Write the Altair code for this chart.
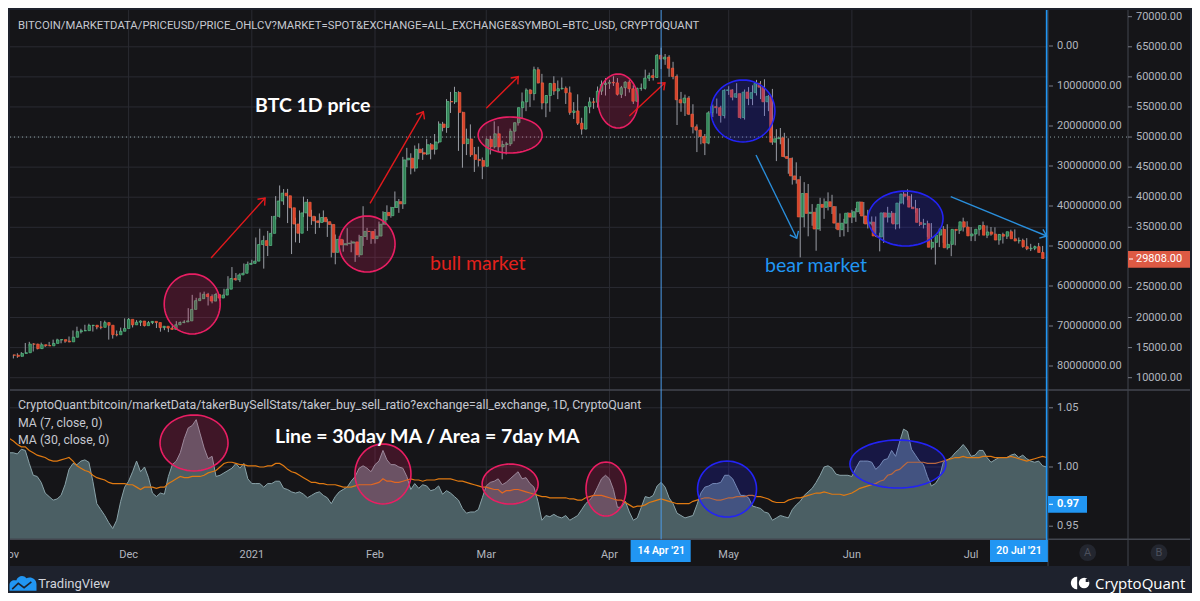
import math
import numpy as np
import pandas as pd
import altair as alt

# ---------------------------------------------------------------- data
START_DATE = "2020-11-01"
FIRST_OPEN = 13780

CLOSE_NOV = [13740, 13550, 14030, 14150, 15590, 15580, 14830, 15480, 15330, 15300,
             15700, 16280, 16330, 16070, 15960, 16720, 17650, 17800, 17820, 18680,
             18720, 18420, 18370, 19160, 18720, 17150, 17140, 17720, 18180, 19700]
HIGH_NOV = [13900, 13820, 14060, 14250, 15770, 15960, 15750, 15650, 15830, 15480,
            15950, 16330, 16480, 16330, 16140, 16850, 17850, 18480, 18130, 18800,
            18970, 18730, 18760, 19420, 19480, 19150, 17450, 17850, 18330, 19860]
LOW_NOV = [13620, 13200, 13300, 13540, 14100, 15200, 14350, 14700, 14800, 15100,
           15280, 15450, 15980, 15720, 15800, 15870, 16540, 17220, 17350, 17760,
           18300, 17670, 18050, 18050, 18500, 16330, 16500, 16880, 17550, 18180]

CLOSE_DEC = [18790, 19210, 19420, 18650, 19150, 19360, 19170, 18320, 18550, 18250,
             18030, 18800, 19170, 19270, 19440, 21350, 22800, 23130, 23860, 23480,
             22740, 23820, 23240, 23730, 24710, 26490, 26280, 27080, 27360, 28840, 29000]
HIGH_DEC = [19920, 19300, 19560, 19510, 19180, 19400, 19400, 19280, 18630, 18560,
            18280, 18940, 19400, 19340, 19570, 21560, 23770, 23280, 24170, 24300,
            24100, 23840, 24100, 23790, 24780, 26870, 28390, 27400, 27370, 28990, 29300]
LOW_DEC = [18320, 18350, 18900, 18580, 18530, 18950, 18900, 18250, 17650, 17900,
           17570, 18020, 18750, 19000, 19050, 19290, 21250, 22350, 22800, 23080,
           22000, 22360, 22700, 22730, 23440, 24520, 25850, 26100, 25900, 27320, 27870]

CLOSE_JAN = [29370, 32130, 32780, 31970, 33990, 36820, 39370, 40670, 40240, 38240,
             35540, 34010, 37390, 39160, 36830, 36070, 35800, 36630, 35930, 35470,
             30830, 32990, 32080, 32270, 32370, 32570, 30430, 33470, 34320, 34300, 33110]
HIGH_JAN = [29600, 33300, 34780, 33600, 34400, 36880, 40180, 41950, 41350, 41380,
            38350, 36600, 37800, 40100, 39700, 37900, 36800, 37300, 37800, 36400,
            35600, 33800, 33500, 32950, 34850, 32800, 32600, 33750, 38500, 34900, 34350]
LOW_JAN = [28800, 29000, 32000, 28130, 30220, 33420, 36300, 36600, 38720, 35700,
           30550, 32500, 32400, 36700, 34400, 35400, 33900, 34900, 35850, 33400,
           30000, 28850, 31400, 30950, 31950, 30850, 29250, 30050, 31900, 32900, 32250]

CLOSE_FEB = [33540, 35510, 37470, 36930, 38290, 39260, 38900, 46200, 46480, 44840,
             47970, 47400, 47170, 48720, 47970, 49180, 52160, 51600, 55900, 55850,
             57400, 54100, 48900, 49680, 47060, 46280, 46110, 45140]
HIGH_FEB = [34700, 35950, 37660, 38650, 38400, 40950, 39700, 46700, 48200, 47300,
            48600, 48950, 48150, 49700, 49000, 50500, 52600, 52520, 56300, 57500,
            58350, 57600, 54200, 51400, 52100, 48350, 48400, 46600]
LOW_FEB = [32300, 33450, 35400, 36200, 36600, 38200, 37400, 38050, 45000, 43800,
           44250, 46300, 46200, 47000, 46300, 47100, 48950, 50950, 50700, 54000,
           55500, 47700, 44900, 47000, 46700, 44200, 45100, 43000]

CLOSE_MAR = [49620, 48380, 50540, 48370, 48760, 48880, 50970, 52380, 54880, 55850,
             57800, 57220, 61190, 59000, 55660, 56900, 58910, 57650, 58030, 58100,
             57350, 54080, 54340, 52300, 51320, 55030, 55840, 55780, 57630, 58730, 58920]
HIGH_MAR = [49800, 50200, 52600, 51800, 49400, 49200, 51400, 52400, 54900, 57400,
            58100, 58000, 61700, 61600, 60500, 56950, 58950, 60100, 59400, 59900,
            58400, 58400, 55800, 57100, 53200, 55100, 56600, 56500, 58400, 59400, 59800]
LOW_MAR = [45100, 47100, 48100, 47500, 46300, 47100, 48500, 49300, 51900, 53100,
           54300, 55000, 56100, 58900, 54600, 53300, 54200, 57000, 56300, 57900,
           55500, 53700, 53000, 52000, 50400, 51300, 53950, 54700, 54900, 57000, 56900]

CLOSE_APR = [59100, 59000, 57100, 58200, 59130, 58020, 55950, 58090, 58090, 59790,
             60200, 59900, 63580, 62960, 63270, 61440, 60070, 56200, 55680, 56470,
             53800, 51700, 51150, 50100, 49000, 54020, 55050, 54880, 53580, 57750]
HIGH_APR = [59500, 60100, 59800, 58500, 59250, 59450, 58600, 58200, 58900, 61200,
            60700, 61300, 63800, 64850, 63800, 63600, 62500, 60400, 57500, 57050,
            56800, 55450, 52100, 51200, 50500, 54300, 55400, 56400, 55200, 57950]
LOW_APR = [58000, 58500, 56900, 56500, 56800, 57400, 55500, 55800, 57700, 57900,
           59300, 59400, 59800, 61300, 62000, 60000, 59600, 52000, 54200, 53500,
           53650, 50600, 47500, 48800, 47000, 48800, 53300, 53900, 52400, 53100]

CLOSE_MAY = [57830, 56630, 57210, 53240, 57470, 56430, 57380, 58930, 58280, 55860,
             56750, 49150, 49720, 49880, 46760, 46450, 43540, 42910, 36720, 40620,
             37310, 37500, 34710, 38800, 38320, 39240, 38440, 35690, 34600, 35680, 37340]
HIGH_MAY = [58450, 57950, 58950, 57250, 57900, 58300, 58600, 59500, 59300, 59600,
            57000, 58000, 51300, 51500, 50700, 49800, 46600, 45800, 43500, 42500,
            42200, 38850, 38250, 39900, 39800, 40800, 40400, 38500, 37300, 36400, 37500]
LOW_MAY = [57000, 56100, 56500, 53050, 52900, 55300, 55300, 56900, 56300, 53500,
           54300, 48700, 46000, 48800, 46600, 43900, 42100, 42250, 30000, 35000,
           33500, 35250, 31100, 34400, 36400, 37800, 37200, 34700, 33400, 33500, 34200]

CLOSE_JUN = [36690, 37580, 39190, 36880, 35550, 35860, 33560, 33400, 37390, 36690,
             37340, 35550, 39020, 40530, 40160, 38350, 38090, 35820, 35480, 35600,
             31680, 32500, 33700, 34660, 31600, 32160, 34650, 34490, 35910, 35040]
HIGH_JUN = [37900, 38200, 39300, 39200, 37900, 36800, 36800, 34100, 37500, 38400,
            37700, 37400, 39300, 41000, 41300, 40500, 39550, 38200, 36400, 36100,
            35700, 33300, 34800, 35200, 35500, 32700, 34700, 35300, 36600, 36000]
LOW_JUN = [35700, 35900, 37200, 35600, 34800, 35300, 33400, 31000, 32400, 35800,
           35700, 34650, 34800, 38800, 39500, 38100, 37400, 35200, 34800, 33400,
           31300, 28800, 31700, 32400, 31300, 30200, 32000, 33900, 34300, 34000]

CLOSE_JUL = [33570, 33890, 34670, 35290, 33690, 34220, 33860, 32880, 33800, 33520,
             34260, 33090, 32730, 32820, 31780, 31420, 31520, 31780, 30820, 29808]
HIGH_JUL = [35050, 33950, 35000, 35950, 35300, 35050, 35000, 33900, 34100, 34250,
            34600, 34650, 33300, 33100, 33200, 32250, 31950, 32400, 31900, 31050]
LOW_JUL = [32700, 32700, 33600, 34400, 33200, 33600, 33800, 32100, 32300, 33050,
           33350, 32700, 32300, 31600, 31200, 31050, 31200, 31250, 30500, 29400]

# taker buy/sell ratio, 7-day MA (area) and 30-day MA (line), 1 Nov 2020 .. 20 Jul 2021
MA7_A = [1.012, 1.012, 1.011, 1.015, 1.014, 1.003, 0.993, 0.992, 0.987, 0.978,
         0.975, 0.972, 0.973, 0.976, 0.985, 0.998, 1.003, 1.002, 1.005, 1.006,
         1.004, 0.988, 0.969, 0.964, 0.959, 0.953, 0.948, 0.955, 0.971, 0.983,
         0.988, 0.996, 1.005, 0.996, 1.000, 0.991, 0.978, 0.975, 0.978, 0.977,
         0.992, 1.002, 1.005, 1.012, 1.024, 1.033, 1.035, 1.040, 1.028, 1.016,
         1.007, 1.009, 0.992, 0.993, 0.995, 0.997, 0.999, 1.003, 0.999, 1.003,
         0.990, 0.986, 0.986, 0.986, 0.983, 0.986, 0.986, 0.988, 0.988, 0.982,
         0.981, 0.979, 0.978, 0.979, 0.977, 0.974, 0.976, 0.978, 0.979, 0.976,
         0.974, 0.969, 0.975, 0.979, 0.981, 0.983, 0.988, 0.992, 0.999]
MA7_B = [1.001, 0.999, 0.996, 1.002, 1.005, 1.014, 1.006, 1.002, 1.002, 1.000,
         0.999, 0.992, 0.981, 0.986, 0.982, 0.985, 0.984, 0.980, 0.981, 0.984,
         0.977, 0.980, 0.978, 0.975, 0.972, 0.965, 0.961, 0.962, 0.962, 0.964,
         0.974, 0.984, 0.987, 0.988, 0.990, 0.985, 0.987, 0.990, 0.993, 0.996,
         0.990, 0.991, 0.986, 0.983, 0.971, 0.955, 0.959, 0.958, 0.960, 0.958,
         0.957, 0.959, 0.955, 0.957, 0.959, 0.964, 0.969, 0.972, 0.976, 0.983,
         0.990, 0.993, 0.990, 0.981, 0.966, 0.966, 0.971, 0.962, 0.955, 0.957,
         0.966, 0.975, 0.974, 0.976, 0.984, 0.987, 0.983, 0.974, 0.969, 0.961,
         0.959, 0.957, 0.958, 0.959, 0.968, 0.978, 0.983, 0.984]
MA7_C = [0.986, 0.986, 0.987, 0.993, 0.993, 0.990, 0.983, 0.976, 0.976, 0.974,
         0.967, 0.966, 0.965, 0.962, 0.961, 0.955, 0.957, 0.959, 0.958, 0.957,
         0.964, 0.968, 0.971, 0.976, 0.979, 0.982, 0.987, 0.993, 1.000, 1.001,
         0.999, 0.994, 0.993, 0.993, 0.993, 0.992, 0.999, 1.005, 1.005, 1.005,
         1.004, 0.998, 1.001, 1.006, 1.007, 1.014, 1.009, 1.021, 1.032, 1.030,
         1.015, 1.010, 1.005, 1.002, 0.992, 0.984, 0.986, 0.991, 1.004, 1.006,
         1.008, 1.012, 1.015, 1.019, 1.015, 1.009, 1.010, 1.014, 1.014, 1.008,
         1.004, 1.006, 1.008, 1.008, 1.008, 1.010, 1.011, 1.008, 1.010, 1.007,
         1.005, 1.004, 1.005, 1.001, 1.000]
MA30_A = [1.024, 1.022, 1.019, 1.017, 1.017, 1.014, 1.012, 1.010, 1.009, 1.008,
          1.006, 1.005, 1.005, 1.006, 1.007, 1.008, 1.005, 1.001, 0.999, 0.997,
          0.996, 0.993, 0.991, 0.990, 0.989, 0.987, 0.986, 0.986, 0.986, 0.986,
          0.985, 0.985, 0.983, 0.981, 0.983, 0.983, 0.983, 0.982, 0.983, 0.983,
          0.986, 0.988, 0.990, 0.992, 0.991, 0.991, 0.992, 0.992, 0.992, 0.993,
          0.995, 0.996, 0.997, 1.000, 1.003, 1.004, 1.004, 1.003, 1.002, 1.002,
          1.001, 1.001, 1.001, 1.000, 1.000, 1.001, 1.001, 1.003, 1.003, 1.001,
          0.998, 0.996, 0.995, 0.993, 0.991, 0.989, 0.987, 0.987, 0.986, 0.986,
          0.985, 0.985, 0.985, 0.984, 0.983, 0.983, 0.983, 0.984, 0.985]
MA30_B = [0.985, 0.985, 0.985, 0.986, 0.987, 0.990, 0.988, 0.988, 0.987, 0.987,
          0.988, 0.989, 0.990, 0.989, 0.989, 0.988, 0.989, 0.989, 0.989, 0.990,
          0.990, 0.990, 0.990, 0.989, 0.988, 0.988, 0.987, 0.986, 0.985, 0.984,
          0.983, 0.983, 0.982, 0.981, 0.981, 0.978, 0.980, 0.980, 0.981, 0.981,
          0.980, 0.979, 0.978, 0.977, 0.976, 0.975, 0.975, 0.974, 0.974, 0.974,
          0.974, 0.974, 0.973, 0.973, 0.972, 0.972, 0.974, 0.975, 0.976, 0.976,
          0.976, 0.975, 0.974, 0.973, 0.972, 0.972, 0.970, 0.968, 0.966, 0.967,
          0.967, 0.968, 0.970, 0.971, 0.972, 0.973, 0.972, 0.971, 0.970, 0.969,
          0.969, 0.969, 0.969, 0.971, 0.972, 0.973, 0.974, 0.974]
MA30_C = [0.973, 0.972, 0.972, 0.973, 0.974, 0.974, 0.975, 0.975, 0.975, 0.976,
          0.976, 0.975, 0.975, 0.974, 0.973, 0.971, 0.970, 0.970, 0.970, 0.972,
          0.973, 0.974, 0.974, 0.975, 0.976, 0.977, 0.978, 0.978, 0.979, 0.978,
          0.977, 0.977, 0.977, 0.976, 0.977, 0.978, 0.980, 0.982, 0.983, 0.984,
          0.985, 0.986, 0.988, 0.989, 0.993, 0.994, 0.997, 0.998, 1.001, 1.004,
          1.004, 1.004, 1.004, 1.004, 1.003, 1.003, 1.003, 1.004, 1.005, 1.006,
          1.007, 1.008, 1.008, 1.009, 1.008, 1.008, 1.008, 1.008, 1.009, 1.009,
          1.009, 1.008, 1.008, 1.008, 1.008, 1.009, 1.008, 1.007, 1.006, 1.005,
          1.006, 1.007, 1.008, 1.009, 1.008]

MONTH_TICKS = ["2020-11-01", "2020-12-01", "2021-01-01", "2021-02-01", "2021-03-01",
               "2021-04-01", "2021-05-01", "2021-06-01", "2021-07-01"]
MONTH_LABELS = ["Nov", "Dec", "2021", "Feb", "Mar", "Apr", "May", "Jun", "Jul"]
PRICE_TICKS = [10000, 15000, 20000, 25000, 30000, 35000, 40000, 45000, 50000, 55000, 60000, 65000, 70000]
PRICE_LABELS = ["10000.00", "15000.00", "20000.00", "25000.00", "30000.00", "35000.00", "40000.00",
                "45000.00", "50000.00", "55000.00", "60000.00", "65000.00", "70000.00"]
VOL_TICKS = [0, 10000000, 20000000, 30000000, 40000000, 50000000, 60000000, 70000000, 80000000]
VOL_LABELS = ["0.00", "10000000.00", "20000000.00", "30000000.00", "40000000.00",
              "50000000.00", "60000000.00", "70000000.00", "80000000.00"]
RATIO_TICKS = [0.95, 1.00, 1.05]
RATIO_LABELS = ["0.95", "1.00", "1.05"]
RATIO_PANE_BOTTOM = 0.93894
LAST_PRICE, LAST_PRICE_LABEL = 29808, "29808.00"
LAST_RATIO, LAST_RATIO_LABEL = 0.9685, "0.97"
HLINE_PRICE = 50000
CROSS_DATE, CROSS_LABEL = "2021-04-14", "14 Apr '21"
END_DATE, END_LABEL = "2021-07-20", "20 Jul '21"

# annotations (data coordinates)
RED_ARROW_FROM = ["2020-12-21T18:00:00Z", "2021-01-30T18:00:00Z", "2021-03-01T00:00:00Z", "2021-04-06T00:00:00Z"]
RED_ARROW_FROM_P = [29900, 38990, 54780, 53500]
RED_ARROW_TO = ["2021-01-04T08:00:00Z", "2021-02-13T04:00:00Z", "2021-03-09T01:00:00Z", "2021-04-14T23:00:00Z"]
RED_ARROW_TO_P = [39870, 54210, 60030, 59030]
BLUE_ARROW_FROM = ["2021-05-07T21:00:00Z", "2021-06-25T21:00:00Z"]
BLUE_ARROW_FROM_P = [47010, 40080]
BLUE_ARROW_TO = ["2021-05-18T03:00:00Z", "2021-07-20T00:30:00Z"]
BLUE_ARROW_TO_P = [33170, 33550]

PINK_UP_DATE = ["2020-12-17T00:00:00Z", "2021-01-30T00:00:00Z", "2021-03-07T00:00:00Z", "2021-04-03T04:00:00Z"]
PINK_UP_PRICE = [22250, 32220, 50340, 55990]
BLUE_UP_DATE = ["2021-05-04T14:00:00Z", "2021-06-14T12:00:00Z"]
BLUE_UP_PRICE = [54330, 36460]
PINK_LO_DATE = ["2020-12-17T11:00:00Z", "2021-02-03T00:00:00Z", "2021-03-07T00:00:00Z", "2021-03-31T03:00:00Z"]
PINK_LO_RATIO = [1.0203, 0.9941, 0.9856, 0.9814]
BLUE_LO_DATE = ["2021-04-30T14:00:00Z", "2021-06-12T14:00:00Z"]
BLUE_LO_RATIO = [0.9814, 1.0025]

# ---------------------------------------------------------------- styles
PINK_UP_R = [(28, 30), (28, 28), (32, 18), (20, 27)]
BLUE_UP_R = [(32, 31), (37.5, 27.5)]
PINK_LO_R = [(34, 28), (28, 30), (28, 20), (20, 27)]
BLUE_LO_R = [(29.5, 28), (48, 24)]
RED_HEAD_ANGLE = [312.0, 300.2, 311.8, 317.0]
BLUE_HEAD_ANGLE = [64.0, 22.3]

W, H = 1184, 585
BORDER = "#1e222d"
PANEL = "#151518"
GRID = "#2a2b32"
SEP = "#43464f"
AXIS_TXT = "#b2b5be"
LEGEND_TXT = "#c5c8d0"
UP_FILL, UP_LINE = "#2f7d52", "#5cc08a"
DN_FILL, DN_LINE = "#d9412a", "#f0623f"
WICK = "#9a9da5"
AREA_FILL, AREA_LINE = "#4b5f64", "#8aa3a9"
ORANGE = "#e07a12"
PINK = "#e91e63"
NAVY = "#2323f5"
RED = "#e3191c"
BLUE = "#2196f3"
FONT = "Roboto"
BIG = "Lato"

# ---------------------------------------------------------------- scales
PX_PER_DAY = 3.974
X_FIRST = 1.4
t0 = pd.Timestamp(START_DATE, tz="UTC")
dom0 = t0 - pd.Timedelta(days=X_FIRST / PX_PER_DAY)
dom1 = t0 + pd.Timedelta(days=(W - X_FIRST) / PX_PER_DAY)
XS = alt.Scale(type="utc", domain=[int(dom0.value // 10**6), int(dom1.value // 10**6)], nice=False)
PS = alt.Scale(domain=[-25784, 71446], nice=False, zero=False)
RS = alt.Scale(domain=[0.89358, 1.38767], nice=False, zero=False)
VS = alt.Scale(domain=[-9.5e6, 136.75e6], nice=False, zero=False, reverse=True)


def xt(f):
    return alt.X(f"{f}:T", scale=XS, axis=None)


def yp(f):
    return alt.Y(f"{f}:Q", scale=PS, axis=None)


def yr(f):
    return alt.Y(f"{f}:Q", scale=RS, axis=None)


ONE = pd.DataFrame({"k": [0]})


def rect(x, x2, y, y2, color, opacity=1):
    return alt.Chart(ONE).mark_rect(color=color, opacity=opacity).encode(
        x=alt.value(x), x2=alt.value(x2), y=alt.value(y), y2=alt.value(y2))


def hline(x, x2, y, color, width=1):
    return alt.Chart(ONE).mark_rule(color=color, strokeWidth=width).encode(
        x=alt.value(x), x2=alt.value(x2), y=alt.value(y))


def vline(x, y, y2, color, width=1):
    return alt.Chart(ONE).mark_rule(color=color, strokeWidth=width).encode(
        x=alt.value(x), y=alt.value(y), y2=alt.value(y2))


def text(s, x, y, size=11, color=AXIS_TXT, weight="normal", font=FONT, align="left", baseline="alphabetic"):
    return alt.Chart(ONE).mark_text(text=s, font=font, fontSize=size, fontWeight=weight, color=color,
                                    align=align, baseline=baseline).encode(x=alt.value(x), y=alt.value(y))


def ellipse_path(k, n=60):
    pts = [(math.cos(2 * math.pi * i / n), k * math.sin(2 * math.pi * i / n)) for i in range(n)]
    return "M" + "L".join(f"{a:.4f},{b:.4f}" for a, b in pts) + "Z"


def ellipses(dates, values, radii, yenc, stroke, fill, fop):
    df = pd.DataFrame({
        "date": dates, "v": values,
        "shape": [ellipse_path(ry / rx) for rx, ry in radii],
        "size": [(2 * rx) ** 2 for rx, ry in radii],
    })
    return alt.Chart(df).mark_point(filled=True, opacity=1, fill=fill, fillOpacity=fop, stroke=stroke,
                                    strokeWidth=1.6, strokeOpacity=1).encode(
        x=xt("date"), y=yenc("v"),
        shape=alt.Shape("shape:N", scale=None), size=alt.Size("size:Q", scale=None))


CHEVRON = "M-1,-0.8L0,0L-1,0.8"


def arrows(f, fp, t, tp, angles, color):
    df = pd.DataFrame({"d0": f, "p0": fp, "d1": t, "p1": tp, "ang": angles})
    shaft = alt.Chart(df).mark_rule(color=color, strokeWidth=1.4).encode(
        x=xt("d0"), x2="d1", y=yp("p0"), y2="p1")
    head = alt.Chart(df).mark_point(shape=CHEVRON, filled=False, color=color, strokeWidth=1.4,
                                    size=144, opacity=1).encode(
        x=xt("d1"), y=yp("p1"), angle=alt.Angle("ang:Q", scale=None))
    return [shaft, head]


# ---------------------------------------------------------------- frames
CLOSES = CLOSE_NOV + CLOSE_DEC + CLOSE_JAN + CLOSE_FEB + CLOSE_MAR + CLOSE_APR + CLOSE_MAY + CLOSE_JUN + CLOSE_JUL
HIGHS = HIGH_NOV + HIGH_DEC + HIGH_JAN + HIGH_FEB + HIGH_MAR + HIGH_APR + HIGH_MAY + HIGH_JUN + HIGH_JUL
LOWS = LOW_NOV + LOW_DEC + LOW_JAN + LOW_FEB + LOW_MAR + LOW_APR + LOW_MAY + LOW_JUN + LOW_JUL
OPENS = [FIRST_OPEN] + CLOSES[:-1]
dates = list(pd.date_range(START_DATE, periods=len(CLOSES), freq="D").strftime("%Y-%m-%d"))
candles = pd.DataFrame({"date": dates, "open": OPENS, "close": CLOSES, "high": HIGHS, "low": LOWS})
candles["dir"] = np.where(candles["close"] >= candles["open"], "up", "down")
lower = pd.DataFrame({"date": dates, "ma7": MA7_A + MA7_B + MA7_C, "ma30": MA30_A + MA30_B + MA30_C})
lower["base"] = RATIO_PANE_BOTTOM

layers = []
# panel + grid
layers.append(rect(2, 1182, 2, 558, PANEL))
layers.append(alt.Chart(pd.DataFrame({"m": MONTH_TICKS[1:]})).mark_rule(color=GRID).encode(
    x=xt("m"), y=alt.value(2), y2=alt.value(531.3)))
layers.append(alt.Chart(pd.DataFrame({"v": PRICE_TICKS[:-1]})).mark_rule(color=GRID).encode(
    y=yp("v"), x=alt.value(2), x2=alt.value(1040)))
layers.append(alt.Chart(pd.DataFrame({"v": RATIO_TICKS})).mark_rule(color=GRID).encode(
    y=yr("v"), x=alt.value(2), x2=alt.value(1040)))

# lower pane series
layers.append(alt.Chart(lower).mark_area(color=AREA_FILL, opacity=1,
                                         line={"color": AREA_LINE, "strokeWidth": 1}).encode(
    x=xt("date"), y=yr("ma7"), y2="base"))
layers.append(alt.Chart(lower).mark_line(color=ORANGE, strokeWidth=1.2).encode(x=xt("date"), y=yr("ma30")))

# candles
layers.append(alt.Chart(candles).mark_rule(color=WICK, strokeWidth=1).encode(
    x=xt("date"), y=yp("low"), y2="high"))
layers.append(alt.Chart(candles).mark_bar(size=2.4, strokeWidth=0.7).encode(
    x=xt("date"), y=yp("open"), y2="close",
    color=alt.Color("dir:N", scale=alt.Scale(domain=["up", "down"], range=[UP_FILL, DN_FILL]), legend=None),
    stroke=alt.Stroke("dir:N", scale=alt.Scale(domain=["up", "down"], range=[UP_LINE, DN_LINE]), legend=None)))

# dotted horizontal line
layers.append(alt.Chart(pd.DataFrame({"v": [HLINE_PRICE]})).mark_rule(
    color="#8fa3a6", strokeDash=[1, 3], strokeWidth=1).encode(y=yp("v"), x=alt.value(2), x2=alt.value(1120)))

# annotations
layers.append(ellipses(PINK_UP_DATE, PINK_UP_PRICE, PINK_UP_R, yp, PINK, PINK, 0.2))
layers.append(ellipses(BLUE_UP_DATE, BLUE_UP_PRICE, BLUE_UP_R, yp, NAVY, NAVY, 0.2))
layers.append(ellipses(PINK_LO_DATE, PINK_LO_RATIO, PINK_LO_R, yr, PINK, PINK, 0.2))
layers.append(ellipses(BLUE_LO_DATE, BLUE_LO_RATIO, BLUE_LO_R, yr, NAVY, NAVY, 0.2))
layers += arrows(RED_ARROW_FROM, RED_ARROW_FROM_P, RED_ARROW_TO, RED_ARROW_TO_P, RED_HEAD_ANGLE, RED)
layers += arrows(BLUE_ARROW_FROM, BLUE_ARROW_FROM_P, BLUE_ARROW_TO, BLUE_ARROW_TO_P, BLUE_HEAD_ANGLE, "#2a8fdc")

# separators / axis lines
layers.append(hline(2, 1182, 382, SEP, 1.5))
layers.append(hline(2, 1182, 531.3, SEP, 1.5))
layers.append(vline(1040, 2, 558, SEP, 1))
layers.append(vline(1120, 2, 558, SEP, 1))

# crosshair lines
layers.append(alt.Chart(pd.DataFrame({"d": [CROSS_DATE]})).mark_rule(color="#4c9be8", strokeWidth=1).encode(
    x=xt("d"), y=alt.value(2), y2=alt.value(531.3)))
layers.append(alt.Chart(pd.DataFrame({"d": [END_DATE]})).mark_rule(color=BLUE, strokeWidth=1.6).encode(
    x=xt("d"), y=alt.value(2), y2=alt.value(554)))

# price axis (outer)
price_df = pd.DataFrame({"v": PRICE_TICKS, "t": PRICE_LABELS})
layers.append(alt.Chart(price_df).mark_rule(color="#787b86").encode(
    y=yp("v"), x=alt.value(1120), x2=alt.value(1124)))
layers.append(alt.Chart(price_df).mark_text(align="left", baseline="middle", font=FONT, fontSize=11,
                                            color=AXIS_TXT).encode(y=yp("v"), x=alt.value(1128), text="t:N"))
# volume-like inner axis
vol_df = pd.DataFrame({"v": VOL_TICKS, "t": VOL_LABELS})
layers.append(alt.Chart(vol_df).mark_rule(color="#787b86").encode(
    y=alt.Y("v:Q", scale=VS, axis=None), x=alt.value(1041), x2=alt.value(1045)))
layers.append(alt.Chart(vol_df).mark_text(align="left", baseline="middle", font=FONT, fontSize=11,
                                          color=AXIS_TXT).encode(
    y=alt.Y("v:Q", scale=VS, axis=None), x=alt.value(1049), text="t:N"))
# ratio axis
ratio_df = pd.DataFrame({"v": RATIO_TICKS, "t": RATIO_LABELS})
layers.append(alt.Chart(ratio_df).mark_rule(color="#787b86").encode(
    y=yr("v"), x=alt.value(1041), x2=alt.value(1045)))
layers.append(alt.Chart(ratio_df).mark_text(align="left", baseline="middle", font=FONT, fontSize=11,
                                            color=AXIS_TXT).encode(y=yr("v"), x=alt.value(1049), text="t:N"))
# last-value boxes
layers.append(rect(1120, 1182, 243, 259.7, "#dd5a44"))
layers.append(hline(1121, 1125, 251, "#ffffff", 1))
layers.append(alt.Chart(pd.DataFrame({"v": [LAST_PRICE], "t": [LAST_PRICE_LABEL]})).mark_text(
    align="left", baseline="middle", font=FONT, fontSize=11, color="#ffffff").encode(
    y=yp("v"), x=alt.value(1128), text="t:N"))
layers.append(rect(1040, 1079, 488, 504.7, BLUE))
layers.append(hline(1041, 1045, 496.3, "#ffffff", 1))
layers.append(alt.Chart(pd.DataFrame({"v": [LAST_RATIO], "t": [LAST_RATIO_LABEL]})).mark_text(
    align="left", baseline="middle", font=FONT, fontSize=11, fontWeight="bold", color="#ffffff").encode(
    y=yr("v"), x=alt.value(1049), text="t:N"))

# time axis labels
layers.append(alt.Chart(pd.DataFrame({"m": MONTH_TICKS, "t": MONTH_LABELS})).mark_text(
    align="center", baseline="alphabetic", font=FONT, fontSize=11, color=AXIS_TXT).encode(
    x=xt("m"), y=alt.value(550.3), text="t:N"))
layers.append(rect(622.6, 682.7, 532, 554, BLUE))
layers.append(alt.Chart(pd.DataFrame({"d": [CROSS_DATE], "t": [CROSS_LABEL]})).mark_text(
    align="center", baseline="middle", font=FONT, fontSize=10.5, fontWeight=600, color="#ffffff").encode(
    x=xt("d"), y=alt.value(543), text="t:N"))
layers.append(rect(982, 1039.8, 532, 554, BLUE))
layers.append(text(END_LABEL, 1011, 543, 10.5, "#ffffff", 600, align="center", baseline="middle"))

# A / B buttons
layers.append(alt.Chart(pd.DataFrame({"t": ["A", "B"], "x": [0, 1]})).mark_point(
    shape="circle", filled=True, color="#23262f", size=283, opacity=1).encode(
    x=alt.X("x:Q", scale=alt.Scale(domain=[0, 1], range=[1079.7, 1151]), axis=None), y=alt.value(544.7)))
layers.append(text("A", 1079.7, 545, 11, "#4c505c", align="center", baseline="middle"))
layers.append(text("B", 1151, 545, 11, "#4c505c", align="center", baseline="middle"))

# legends / titles
layers.append(text("BITCOIN/MARKETDATA/PRICEUSD/PRICE_OHLCV?MARKET=SPOT&EXCHANGE=ALL_EXCHANGE&SYMBOL=BTC_USD, CRYPTOQUANT",
                   10, 21.3, 11.3, LEGEND_TXT))
layers.append(text("CryptoQuant:bitcoin/marketData/takerBuySellStats/taker_buy_sell_ratio?exchange=all_exchange, 1D, CryptoQuant",
                   10, 400.5, 12.35, LEGEND_TXT))
layers.append(text("MA (7, close, 0)", 10, 419, 12.3, LEGEND_TXT))
layers.append(text("MA (30, close, 0)", 10, 436, 12.3, LEGEND_TXT))
layers.append(text("BTC 1D price", 247, 103.7, 19.5, "#ffffff", "bold", BIG))
layers.append(text("Line = 30day MA / Area = 7day MA", 267, 435, 19.5, "#ffffff", "bold", BIG))
layers.append(text("bull market", 422, 262, 19.5, "#e3211c", "normal", BIG))
layers.append(text("bear market", 757, 263.7, 19.5, BLUE, "normal", BIG))

# left border strip (hides spill at the plot edge)
layers.append(rect(0, 2, 0, 585, BORDER))

# footer logos
TV_CLOUD = ("M-1,0.55L-1,0.12C-1,-0.15 -0.75,-0.3 -0.5,-0.22C-0.38,-0.58 0.05,-0.66 0.25,-0.38"
            "C0.55,-0.55 1,-0.35 1,0.05L1,0.55Z")
TV_ZIG = "M-0.8,0.42L-0.35,0.0L0.08,0.32L0.62,-0.12"
HALF_DISC = "M0,-1" + "".join(
    f"L{-math.sin(math.pi * i / 20):.4f},{-math.cos(math.pi * i / 20):.4f}" for i in range(1, 21)) + "Z"
layers.append(alt.Chart(ONE).mark_point(shape=TV_CLOUD, filled=True, color=BLUE, size=729, opacity=1).encode(
    x=alt.value(15), y=alt.value(575.4)))
layers.append(alt.Chart(ONE).mark_point(shape=TV_ZIG, filled=False, color=BORDER, strokeWidth=1.6,
                                        size=729, opacity=1).encode(x=alt.value(15), y=alt.value(575.4)))
layers.append(text("TradingView", 30.3, 580.3, 13, "#d1d4dc"))
layers.append(alt.Chart(ONE).mark_point(shape=HALF_DISC, filled=True, color="#ffffff", size=160, opacity=1).encode(
    x=alt.value(1069.2), y=alt.value(575)))
layers.append(alt.Chart(ONE).mark_point(shape="circle", filled=True, color="#ffffff", size=113, opacity=1).encode(
    x=alt.value(1076.1), y=alt.value(575)))
layers.append(alt.Chart(ONE).mark_point(shape="square", filled=True, color=BORDER, size=9, opacity=1).encode(
    x=alt.value(1079.2), y=alt.value(572.5)))
layers.append(text("CryptoQuant", 1087, 580.5, 15, "#ffffff", "normal", "Open Sans"))

chart = alt.layer(*layers).resolve_scale(y="independent").properties(
    width=W, height=H, background=BORDER, padding=0,
    autosize=alt.AutoSizeParams(type="none"),
).configure_view(stroke=None)

chart.save("out.html", embed_options={"renderer": "svg", "actions": False})
